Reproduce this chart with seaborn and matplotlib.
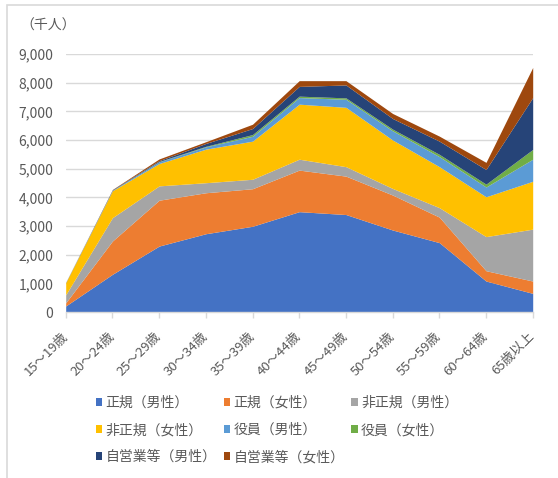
import pandas as pd
import matplotlib
matplotlib.use("Agg")
import matplotlib.pyplot as plt
from matplotlib.patches import Patch, Rectangle
import seaborn as sns

# ---------------- data (千人) ----------------
age_groups = ["15～19歳", "20～24歳", "25～29歳", "30～34歳", "35～39歳", "40～44歳",
              "45～49歳", "50～54歳", "55～59歳", "60～64歳", "65歳以上"]

regular_male = [210, 1315, 2300, 2730, 2990, 3500, 3400, 2860, 2420, 1080, 650]
regular_female = [110, 1160, 1600, 1430, 1310, 1450, 1340, 1220, 890, 360, 430]
nonregular_male = [280, 815, 500, 350, 330, 380, 330, 230, 330, 1190, 1810]
nonregular_female = [420, 940, 780, 1170, 1330, 1920, 2070, 1690, 1430, 1390, 1670]
exec_male = [5, 15, 60, 80, 170, 230, 280, 320, 350, 340, 770]
exec_female = [2, 5, 10, 20, 60, 50, 50, 60, 80, 100, 340]
self_male = [5, 15, 30, 100, 210, 340, 450, 370, 460, 510, 1810]
self_female = [3, 10, 60, 60, 150, 200, 150, 175, 175, 250, 1050]

series_names = ["正規（男性）", "正規（女性）", "非正規（男性）", "非正規（女性）",
                "役員（男性）", "役員（女性）", "自営業等（男性）", "自営業等（女性）"]
series_values = [regular_male, regular_female, nonregular_male, nonregular_female,
                 exec_male, exec_female, self_male, self_female]
colors = ["#4472C4", "#ED7D31", "#A5A5A5", "#FFC000",
          "#5B9BD5", "#70AD47", "#264478", "#9E480E"]

df = pd.DataFrame(dict(zip(series_names, series_values)), index=age_groups)

# ---------------- style ----------------
sns.set_theme(style="white")
plt.rcParams["font.family"] = ["Noto Sans CJK JP", "DejaVu Sans"]
text_color = "#595959"
grid_color = "#D9D9D9"

fig = plt.figure(figsize=(5.58, 4.78), dpi=100)
W, H = 558, 478
ax = fig.add_axes([65.7 / W, 1 - 312 / H, (532.7 - 65.7) / W, (312 - 54) / H])

x = list(range(len(age_groups)))
ax.stackplot(x, *[df[c].values for c in df.columns], colors=colors, linewidth=0, zorder=2)

ax.set_xlim(0, len(age_groups) - 1)
ax.set_ylim(0, 9000)
ax.set_yticks(range(0, 9001, 1000))
ax.set_yticklabels([f"{v:,}" for v in range(0, 9001, 1000)])
ax.yaxis.grid(True, color=grid_color, linewidth=1, zorder=0)
ax.xaxis.grid(False)
ax.set_axisbelow(True)

for s in ["top", "right", "left"]:
    ax.spines[s].set_visible(False)
ax.spines["bottom"].set_color(grid_color)
ax.spines["bottom"].set_linewidth(1)

ax.set_xticks(x)
ax.set_xticklabels(age_groups, rotation=45, ha="right", va="center", rotation_mode="anchor")
ax.tick_params(axis="x", length=4, width=1, color=grid_color, pad=12,
               labelsize=9.5, labelcolor=text_color, bottom=True)
ax.tick_params(axis="y", length=0, pad=9, labelsize=10, labelcolor=text_color)

fig.text(20 / W, 1 - 26 / H, "（千人）", fontsize=10, color=text_color, va="center", ha="left")

# legend in Excel row order (3 columns)
handles = [Patch(facecolor=c, edgecolor="none") for c in colors]
order = [0, 3, 6, 1, 4, 7, 2, 5]
fig.legend([handles[i] for i in order], [series_names[i] for i in order],
           ncol=3, loc="upper left", bbox_to_anchor=(96 / W, 1 - 396 / H),
           frameon=False, fontsize=10, labelcolor=text_color,
           handlelength=0.45, handleheight=0.45, handletextpad=0.25,
           columnspacing=0.5, labelspacing=0.94, borderpad=0, borderaxespad=0)

# chart-area border (only left and top edges fall inside the picture)
fig.add_artist(Rectangle((7 / W, -0.1), 1.2, 1 - 4.5 / H + 0.1, transform=fig.transFigure,
                         fill=False, edgecolor=grid_color, linewidth=1.2))

fig.savefig("out.png", dpi=100)
